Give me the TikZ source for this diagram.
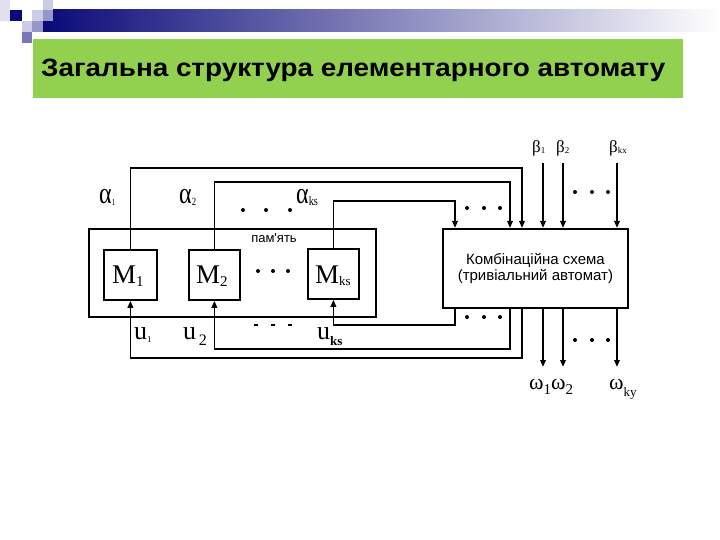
\documentclass[tikz,border=0pt]{standalone}
\usepackage{fontspec}
\setmainfont{Liberation Serif}
\newfontfamily\sansf{Liberation Sans}
\usetikzlibrary{arrows.meta}
\definecolor{navyc}{RGB}{10,10,120}
\definecolor{lightsq}{RGB}{204,204,230}
\definecolor{medsq}{RGB}{150,150,200}
\definecolor{darksq}{RGB}{120,120,185}
\definecolor{greenc}{RGB}{146,208,80}
\newcommand{\mylab}[5]{{\fontsize{#1}{#1}\selectfont #2}{\fontsize{#3}{#3}\selectfont\raisebox{#5}{#4}}}
\begin{document}
\begin{tikzpicture}[x=1pt,y=-1pt,
  wire/.style={line width=1.8pt},
  arr/.style={wire,-{Triangle[width=5.5pt,length=7pt]}},
  blk/.style={draw,line width=1.8pt,inner sep=0pt,anchor=north west},
  dotm/.style={circle,fill,minimum size=4pt,inner sep=0pt},
  lab/.style={inner sep=0pt,anchor=base west},
]
\useasboundingbox (0,0) rectangle (720,540);
\fill[white] (0,0) rectangle (720,540);
% header
\shade[left color=navyc,right color=white] (43,10) rectangle (720,32);
\fill[lightsq!60] (0,0) rectangle (10,21);
\fill[navyc] (10,10) rectangle (22,21);
\fill[lightsq] (32,10) rectangle (43,21);
\fill[lightsq] (43,0) rectangle (53,10);
\fill[medsq] (43,10) rectangle (53,21);
\fill[lightsq] (22,21) rectangle (32,32);
\fill[medsq] (32,21) rectangle (43,32);
\fill[darksq] (22,32) rectangle (32,43);
\fill[greenc] (33,39) rectangle (683,98);
\node[lab] (title) at (41,77) {\resizebox{624pt}{17.5pt}{\sansf\bfseries Загальна структура елементарного автомату}};
% blocks
\node[blk,minimum width=287pt,minimum height=88pt] (mem) at (88,228) {};
\node[blk,minimum width=53pt,minimum height=50pt] (m1) at (103,249) {};
\node[blk,minimum width=51pt,minimum height=50pt] (m2) at (188,249) {};
\node[blk,minimum width=51pt,minimum height=50pt] (mks) at (307,248) {};
\node[blk,minimum width=185pt,minimum height=79pt,align=center,font=\sansf\fontsize{15}{16.5}\selectfont] (cs) at (442,228) {Комбінаційна схема\\(тривіальний автомат)};
\node[inner sep=0pt,font=\sansf\fontsize{13}{13}\selectfont] (memlab) at (274,238) {пам'ять};
% labels in blocks
\node[lab] (lm1) at (112,283) {\mylab{27}{M}{15}{1}{-3pt}};
\node[lab] (lm2) at (196,283) {\mylab{27}{M}{15}{2}{-3pt}};
\node[lab] (lmks) at (315,283) {\mylab{27}{M}{13}{ks}{-2pt}};
% coordinates
\coordinate (k1) at (522,168);
\coordinate (k2) at (510,182);
\coordinate (k3) at (455,201);
\coordinate (q1) at (522,358);
\coordinate (q2) at (510,349);
\coordinate (q3) at (455,325);
\coordinate (b1) at (543,163);
\coordinate (b2) at (563,163);
\coordinate (b3) at (617,163);
\coordinate (o1) at (543,367);
\coordinate (o2) at (563,367);
\coordinate (o3) at (617,367);
% state outputs to combinational scheme
\draw[arr] (m1.north) |- (k1) -- (k1 |- cs.north);
\draw[arr] (m2.north) |- (k2) -- (k2 |- cs.north);
\draw[arr] (mks.north) |- (k3) -- (k3 |- cs.north);
% feedback to memory
\draw[arr] (q1 |- cs.south) -- (q1) -| (m1.south);
\draw[arr] (q2 |- cs.south) -- (q2) -| (m2.south);
\draw[arr] (q3 |- cs.south) -- (q3) -| (mks.south);
% inputs
\draw[arr] (b1) -- (b1 |- cs.north);
\draw[arr] (b2) -- (b2 |- cs.north);
\draw[arr] (b3) -- (b3 |- cs.north);
% outputs
\draw[arr] (o1 |- cs.south) -- (o1);
\draw[arr] (o2 |- cs.south) -- (o2);
\draw[arr] (o3 |- cs.south) -- (o3);
% labels
\node[lab] (la1) at (99,204) {\scalebox{0.8}[1]{\mylab{30}{α}{9}{1}{-2pt}}};
\node[lab] (la2) at (179,204) {\scalebox{0.8}[1]{\mylab{30}{α}{11}{2}{-2pt}}};
\node[lab] (la3) at (296,204) {\scalebox{0.8}[1]{\mylab{30}{α}{13}{ks}{-2pt}}};
\node[lab] (lb1) at (532,153) {\mylab{17}{β}{9}{1}{-1pt}};
\node[lab] (lb2) at (556,153) {\mylab{17}{β}{9}{2}{-1pt}};
\node[lab] (lb3) at (609,153) {\mylab{17}{β}{9}{kx}{-1pt}};
\node[lab] (lu1) at (134,339) {\mylab{26}{u}{9}{1}{-3pt}};
\node[lab] (lu2) at (183,339) {\mylab{26}{u}{16}{\,2}{-6pt}};
\node[lab] (lu3) at (317,339) {\mylab{26}{u}{13}{\textbf{ks}}{-6pt}};
\node[lab] (lo1) at (529,389) {\mylab{22}{ω}{15}{1}{-5pt}};
\node[lab] (lo2) at (551,389) {\mylab{22}{ω}{15}{2}{-5pt}};
\node[lab] (lo3) at (609,389) {\mylab{22}{ω}{13}{ky}{-7pt}};
% dots
\foreach \x/\n in {243/a,266/b,290/c} \node[dotm] (d1\n) at (\x,210) {};
\foreach \x/\n in {258/a,273/b,288/c} \node[dotm] (d2\n) at (\x,271) {};
\foreach \x/\n in {467/a,484/b,500/c} \node[dotm] (d3\n) at (\x,208) {};
\foreach \x/\n in {575/a,592/b,608/c} \node[dotm] (d4\n) at (\x,192) {};
\foreach \x/\n in {467/a,484/b,500/c} \node[dotm] (d5\n) at (\x,317) {};
\foreach \x/\n in {575/a,592/b,608/c} \node[dotm] (d6\n) at (\x,340) {};
\foreach \x/\n in {256/a,273/b,290/c} \node[inner sep=0pt,fill,minimum width=4pt,minimum height=2pt] (d7\n) at (\x,325) {};
\end{tikzpicture}
\end{document}
